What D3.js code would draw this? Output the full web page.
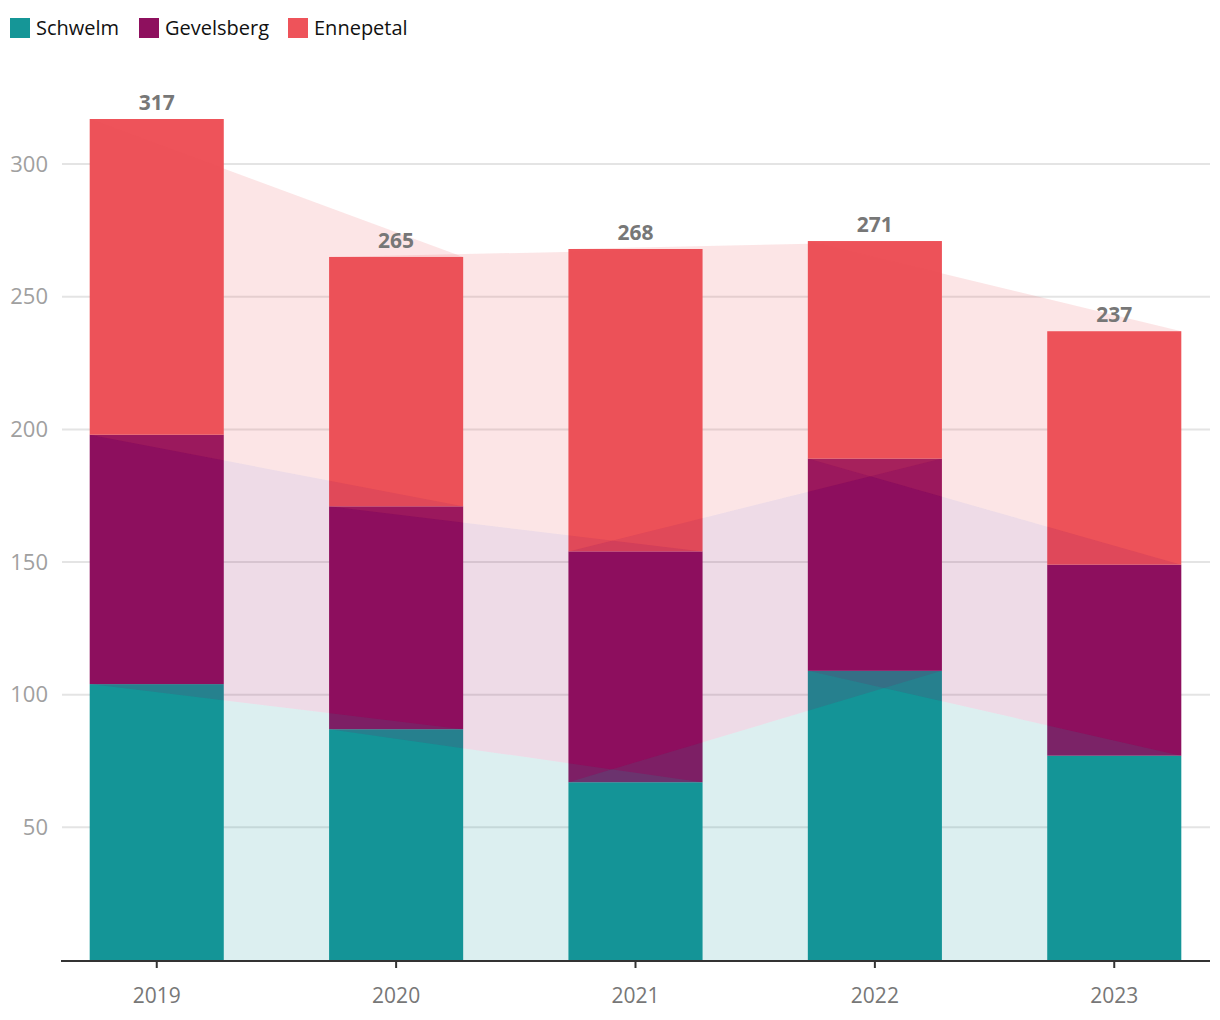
<!DOCTYPE html>
<html>
<head>
<meta charset="utf-8">
<script src="https://cdn.jsdelivr.net/npm/d3@7"></script>
<style>
  html, body { margin: 0; padding: 0; background: #fff; }
  svg { display: block; font-family: "Open Sans", "Noto Sans", sans-serif; }
</style>
</head>
<body>
<svg id="chart" width="1220" height="1020"></svg>
<script>
const years = ["2019", "2020", "2021", "2022", "2023"];
const seriesNames = ["Schwelm", "Gevelsberg", "Ennepetal"];
const schwelm = [104, 87, 67, 109, 77];
const gevelsberg = [94, 84, 87, 80, 72];
const ennepetal = [119, 94, 114, 82, 88];
const yTicks = [50, 100, 150, 200, 250, 300];
const colors = ["#159697", "#8e105e", "#ee535a"];

(function () {
const rows = years.map((y, i) => ({
  year: y,
  Schwelm: schwelm[i],
  Gevelsberg: gevelsberg[i],
  Ennepetal: ennepetal[i]
}));
const totals = rows.map(r => r.Schwelm + r.Gevelsberg + r.Ennepetal);

const svg = d3.select("#chart");
const mLeft = 61, mRight = 1210, mBottom = 960, mTop = 119;

const x = d3.scaleBand().domain(years).range([mLeft, mRight])
  .paddingInner(0.44).paddingOuter(0.12);
const y = d3.scaleLinear().domain([0, d3.max(totals)]).range([mBottom, mTop]);
const color = d3.scaleOrdinal().domain(seriesNames).range(colors);

const stack = d3.stack().keys(seriesNames)(rows);

// gridlines
svg.append("g").selectAll("line").data(yTicks).join("line")
  .attr("x1", mLeft + 1).attr("x2", mRight)
  .attr("y1", d => y(d)).attr("y2", d => y(d))
  .attr("stroke", "#e4e4e4").attr("stroke-width", 2);

// y labels
svg.append("g").selectAll("text").data(yTicks).join("text")
  .attr("x", 48).attr("y", d => y(d)).attr("dy", "0.35em")
  .attr("text-anchor", "end")
  .attr("fill", "#a0a0a0").attr("font-size", 22)
  .text(d => d);

// bars
const barG = svg.append("g");
stack.forEach(s => {
  barG.append("g").attr("fill", color(s.key))
    .selectAll("rect").data(s).join("rect")
    .attr("x", d => x(d.data.year))
    .attr("width", x.bandwidth())
    .attr("y", d => y(d[1]))
    .attr("height", d => y(d[0]) - y(d[1]));
});

// connectors: from left edge of bar i to right edge of bar i+1
const area = d3.area().x(d => d.x).y0(d => d.y0).y1(d => d.y1);
const connG = svg.append("g");
stack.forEach(s => {
  for (let i = 0; i < s.length - 1; i++) {
    const a = s[i], b = s[i + 1];
    const pts = [
      { x: x(a.data.year), y0: y(a[0]), y1: y(a[1]) },
      { x: x(b.data.year) + x.bandwidth(), y0: y(b[0]), y1: y(b[1]) }
    ];
    connG.append("path").attr("d", area(pts))
      .attr("fill", color(s.key)).attr("fill-opacity", 0.15);
  }
});

// total labels
svg.append("g").selectAll("text").data(rows).join("text")
  .attr("x", d => x(d.year) + x.bandwidth() / 2)
  .attr("y", (d, i) => y(totals[i]) - 9)
  .attr("text-anchor", "middle")
  .attr("fill", "#777").attr("font-size", 21).attr("font-weight", 700)
  .text((d, i) => totals[i]);

// x axis
const xAxis = d3.axisBottom(x).tickSize(7).tickPadding(20);
const gx = svg.append("g").attr("transform", `translate(0,${mBottom + 1})`).call(xAxis);
gx.select(".domain").attr("stroke", "#333").attr("stroke-width", 2)
  .attr("d", `M${mLeft},0H${mRight}`);
gx.selectAll(".tick line").attr("stroke", "#333").attr("stroke-width", 2);
gx.selectAll(".tick text").attr("fill", "#777").attr("font-size", 21)
  .attr("font-family", "'Open Sans', sans-serif");

// legend
const legend = svg.append("g").attr("transform", "translate(10,18)");
const legX = [0, 129, 278];
seriesNames.forEach((n, i) => {
  const g = legend.append("g").attr("transform", `translate(${legX[i]},0)`);
  g.append("rect").attr("width", 20).attr("height", 20).attr("fill", color(n));
  g.append("text").attr("x", 26).attr("y", 10).attr("dy", "0.35em")
    .attr("font-size", 20).attr("fill", "#111").text(n);
});
})();
</script>
</body>
</html>
